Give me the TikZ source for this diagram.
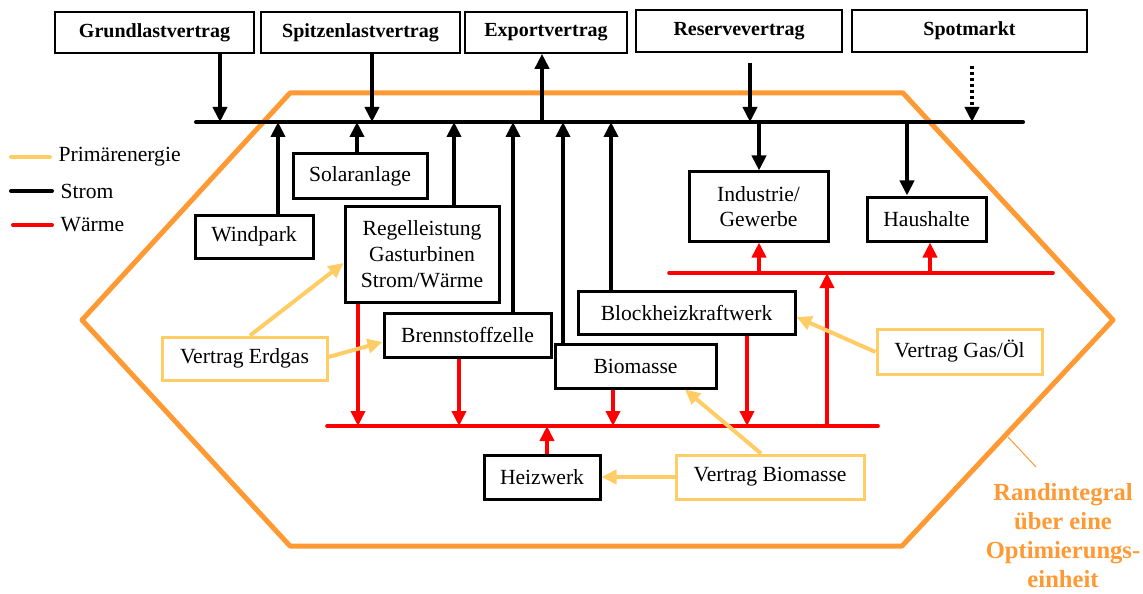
\documentclass[tikz,border=0pt]{standalone}
\usepackage{fontspec}
\setmainfont{Liberation Serif}
\usetikzlibrary{arrows.meta, calc}
\definecolor{cRand}{RGB}{255,153,51}
\definecolor{cPrim}{RGB}{255,204,102}
\definecolor{cHeat}{RGB}{255,0,0}
\tikzset{
	vertrag/.style={rectangle, draw=black, line width=0.8pt, minimum width=#1, minimum height=20.5pt, inner sep=0pt, font=\bfseries, fill=white},
	kasten/.style ={rectangle, draw=black, line width=1.5pt, minimum width=#1, minimum height=22pt, inner sep=0pt, align=center, fill=white},
	pebox/.style  ={rectangle, draw=cPrim, line width=1.5pt, minimum width=#1, minimum height=22pt, inner sep=0pt, fill=white},
	tip/.style    ={-{Triangle[length=7.5pt, width=7pt]}},
	strom/.style  ={tip, line width=2pt, black},
	waerme/.style ={tip, line width=1.8pt, cHeat},
	primaer/.style={tip, line width=2pt, cPrim},
	legtxt/.style ={anchor=west, text=black},
}
\begin{document}
\begin{tikzpicture}[x=0.5pt, y=-0.5pt, font=\fontsize{10.8}{13}\selectfont]
\useasboundingbox (0,0) rectangle (1143,593);
% Rand der Optimierungseinheit
\draw[cRand, line width=2.5pt, line join=round] (290,93) -- (903,93) -- (1113,320) -- (902,546) -- (290,546) -- (82,320) -- cycle;
\coordinate (randpt) at (1008,437);

% Vertraege oben
\node[vertrag=99.5pt] (grund) at (154.5,32.5) {Grundlastvertrag};
\node[vertrag=99.5pt] (spitz) at (360.5,32.5) {Spitzenlastvertrag};
\node[vertrag=81pt] (export) at (546,32.5) {Exportvertrag};
\node[vertrag=103pt, minimum height=21pt] (reserve) at (739,31) {Reservevertrag};
\node[vertrag=117.5pt, minimum height=21pt] (spot) at (969.5,31) {Spotmarkt};

% Anlagen und Verbraucher
\node[kasten=59pt, minimum height=21.5pt] (wind) at (254,236.5) {Windpark};
\node[kasten=67pt] (solar) at (360,176) {Solaranlage};
\node[kasten=77pt, minimum height=48pt] (regel) at (422,254) {Regelleistung\\Gasturbinen\\Strom/Wärme};
\node[kasten=83.5pt] (brenn) at (467.5,335) {Brennstoffzelle};
\node[kasten=80.5pt] (bio) at (635.5,366) {Biomasse};
\node[kasten=108.5pt, minimum height=21.5pt] (bhkw) at (686.5,312.5) {Blockheizkraftwerk};
\node[kasten=69.5pt, minimum height=34.5pt, font=\fontsize{10.8}{12.5}\selectfont] (indus) at (758.5,206.5) {Industrie/\\Gewerbe};
\node[kasten=59.5pt] (haus) at (926.5,219) {Haushalte};
\node[kasten=58pt] (heiz) at (542,477) {Heizwerk};

% Primaerenergie-Vertraege
\node[pebox=82.5pt, minimum height=21.5pt] (erdgas) at (244.5,358.5) {Vertrag Erdgas};
\node[pebox=82.5pt, minimum height=22.5pt] (gasoel) at (959.5,351.5) {Vertrag Gas/Öl};
\node[pebox=94pt] (vbio) at (770,477) {Vertrag Biomasse};

% Stromschiene
\coordinate (busL) at (196,122);
\coordinate (busR) at (1023,122);
\draw[strom, -, line cap=round] (busL) -- (busR);
\foreach \n/\x in {grund/220, spitz/372}
	\draw[strom] (\x,0 |- \n.south) -- (\x,0 |- busL);
\draw[strom] ($(750,0 |- reserve.south)+(0,10)$) -- (750,0 |- busL);
\draw[strom, dash pattern=on 1.6pt off 1.4pt] ($(972,0 |- spot.south)+(0,13)$) -- (972,0 |- busL);
\draw[strom] (542,0 |- busL) -- (542,0 |- export.south);
\foreach \n/\x in {wind/278, solar/357, regel/454, brenn/513, bio/563, bhkw/611}
	\draw[strom] (\x,0 |- \n.north) -- (\x,0 |- busL);
\foreach \n/\x in {indus/759, haus/907}
	\draw[strom] (\x,0 |- busL) -- (\x,0 |- \n.north);

% Waermeschienen
\coordinate (wL) at (327,426);
\coordinate (wR) at (878,426);
\coordinate (hL) at (669,273);
\coordinate (hR) at (1053,273);
\draw[waerme, -, line cap=round] (wL) -- (wR);
\draw[waerme, -, line cap=round] (hL) -- (hR);
\foreach \n/\x in {regel/358, brenn/459, bio/613, bhkw/747}
	\draw[waerme] (\x,0 |- \n.south) -- (\x,0 |- wL);
\draw[waerme] (547,0 |- heiz.north) -- (547,0 |- wL);
\draw[waerme] (827,0 |- wL) -- (827,0 |- hL);
\foreach \n/\x in {indus/759, haus/930}
	\draw[waerme] (\x,0 |- hL) -- (\x,0 |- \n.south);

% Primaerenergie
\draw[primaer] (250,0 |- erdgas.north) -- (regel.west |- 0,263);
\draw[primaer] (erdgas.east |- 0,357) -- (brenn.west |- 0,342);
\draw[primaer] (gasoel.west |- 0,352) -- (bhkw.east |- 0,317);
\draw[primaer] (761,0 |- vbio.north) -- (685,0 |- bio.south);
\draw[primaer] (vbio.west) -- (heiz.east);

% Legende
\draw[cPrim, line width=2pt, line cap=round] (11,157) -- (50,157) node[legtxt] (lprim) {Primärenergie};
\draw[black, line width=2pt, line cap=round] (11,191) -- (52,191) node[legtxt] (lstrom) {Strom};
\draw[cHeat, line width=2pt, line cap=round] (13,225) -- (52,225) node[legtxt] (lwaerme) {Wärme};

% Beschriftung Rand
\node[text=cRand, font=\fontsize{12.3}{14.5}\selectfont\bfseries, align=center] (randtxt) at (1063,536) {Randintegral\\über eine\\Optimierungs-\\einheit};
\draw[cRand, line width=0.5pt] (randpt) -- (1036,467);
\end{tikzpicture}
\end{document}
